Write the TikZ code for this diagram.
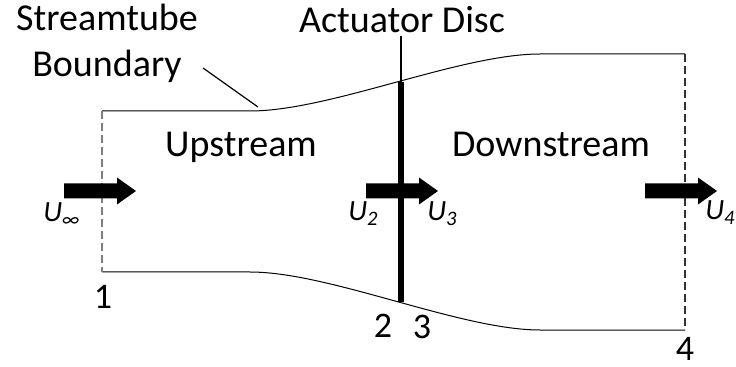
\documentclass[tikz,border=0pt]{standalone}
\usepackage{fontspec}
\setmainfont{Carlito}
\usetikzlibrary{calc}

\begin{document}
\begin{tikzpicture}[x=0.75pt, y=-0.75pt,
  tube/.style={line width=0.75pt},
  cut/.style={line width=0.8pt, dash pattern=on 6pt off 3pt},
  disc/.style={line width=3.8pt},
  leader/.style={line width=0.9pt},
  region/.style={font=\fontsize{28.5}{35}\selectfont, anchor=base, inner sep=0pt, align=center},
  station/.style={font=\fontsize{27}{30}\selectfont, anchor=base, inner sep=0pt},
  vel/.style={font=\fontsize{22}{26}\selectfont\itshape, anchor=base west, inner sep=0pt}
]
\useasboundingbox (0,0) rectangle (736,367);

% Streamtube corners
\coordinate (t1) at (102,111);
\coordinate (b1) at (102,272);
\coordinate (t4) at (685,54);
\coordinate (b4) at (685,330);

% Boundary (upper and lower)
\draw[tube] (t1) -- (250,111) .. controls (330,111) and (460,54) .. (540,54) -- (t4);
\draw[tube] (b1) -- (250,272) .. controls (330,272) and (460,330) .. (540,330) -- (b4);

% Inlet and outlet planes
\draw[cut, gray] (t1) -- (b1);
\draw[cut, black!80] (t4) -- (b4);

% Actuator disc
\coordinate (dtop) at (401,82);
\coordinate (dbot) at (401,302);
\draw[disc] (dtop) -- (dbot);

% Labels
\node[region] (ad) at (402,33) {Actuator Disc};
\node[region] (sb) at (107,77) {Streamtube\\Boundary};
\node[region] (up) at (241,157) {Upstream};
\node[region] (down) at (551,157) {Downstream};

\coordinate (lead) at (203,68);
\coordinate (bnd) at (258,107);
\draw[leader] (lead) -- (bnd);
\draw[leader] (401,36) -- (dtop);

% Flow arrows
\foreach \x/\n in {64/ainf, 366/amid, 645/aout}{
  \fill (\x,183.5) -- (\x+53,183.5) -- (\x+53,177.5) -- (\x+72,191) -- (\x+53,204.5) -- (\x+53,198.5) -- (\x,198.5) -- cycle;
  \coordinate (\n) at (\x+36,191);
}

% Velocities
\node[vel] (uinf) at (43,222) {U\textsubscript{∞}};
\node[vel] (u2) at (348,221) {U\textsubscript{2}};
\node[vel] (u3) at (427,221) {U\textsubscript{3}};
\node[vel] (u4) at (705,220) {U\textsubscript{4}};

% Stations
\node[station] (s1) at (103,309) {1};
\node[station] (s2) at (383,337) {2};
\node[station] (s3) at (422,339) {3};
\node[station] (s4) at (685,360) {4};
\end{tikzpicture}
\end{document}
